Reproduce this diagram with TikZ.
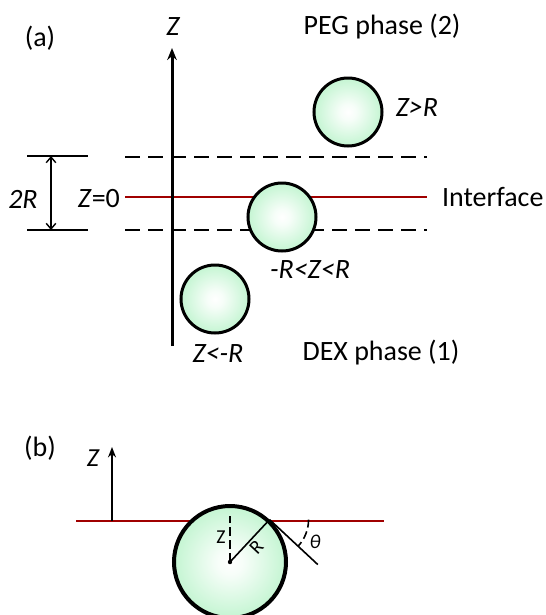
\documentclass[tikz,border=0pt]{standalone}
\usepackage{fontspec}
\setmainfont{Carlito}
\usetikzlibrary{arrows.meta, positioning}

\definecolor{bubblegreen}{RGB}{196,245,210}
\definecolor{ifacered}{RGB}{160,0,0}
\pgfdeclareradialshading{bubbleshade}{\pgfpoint{0bp}{0bp}}{%
  color(0bp)=(white); color(6bp)=(white!85!bubblegreen);
  color(25bp)=(bubblegreen); color(50bp)=(bubblegreen)}

\begin{document}
\begin{tikzpicture}[
  x=0.25mm, y=0.25mm,
  font=\fontsize{19.9}{24}\selectfont,
  lbl/.style={inner sep=0pt},
  small/.style={inner sep=0pt, font=\fontsize{14}{17}\selectfont},
  bubble/.style={circle, draw, line width=0.75mm, minimum size=17mm,
                 inner sep=0pt, shading=bubbleshade},
  bigbubble/.style={bubble, line width=1mm, minimum size=28mm},
  level/.style={dash pattern=on 3.75mm off 2mm, line width=0.6mm},
  iface/.style={ifacered, line width=0.65mm},
  axis/.style={-{Stealth[length=3mm, width=2.4mm]}, line width=0.75mm},
  bar/.style={line width=0.5mm},
  span/.style={{Straight Barb[length=1.4mm, width=2.4mm]}-{Straight Barb[length=1.4mm, width=2.4mm]},
               line width=0.35mm},
  thinline/.style={line width=0.4mm},
  zdash/.style={dash pattern=on 2.25mm off 1mm, line width=0.4mm},
  angdash/.style={dash pattern=on 2mm off 1mm, line width=0.4mm}
]
\useasboundingbox (0,0) rectangle (546,-615);
\clip (0,0) rectangle (546,-615);

%% ---------- panel (a): levels ----------
\node[lbl] (tagA) at (40,-38) {(a)};
\draw[level] (125,-157) -- (427,-157);
\draw[level] (125,-230) -- (427,-230);
\coordinate (ifL) at (125,-197);
\coordinate (ifR) at (427,-197);
\draw[iface] (ifL) -- (ifR);
\node[lbl, left=1.2mm of ifL, yshift=-0.4mm] (zzero) {\textit{Z}=0};
\node[lbl, right=3.7mm of ifR] (ifname) {Interface};

%% ---------- panel (a): axis and phases ----------
\coordinate (axB) at (172,-346);
\coordinate (axT) at (172,-48);
\draw[axis] (axB) -- (axT);
\node[lbl] (zA) at (173,-27) {\itshape Z};
\node[lbl] (peg) at (382,-27) {PEG phase (2)};
\node[lbl] (dex) at (381,-353) {DEX phase (1)};

%% ---------- panel (a): 2R bracket ----------
\coordinate (brT) at (51,-156);
\coordinate (brB) at (51,-230);
\draw[bar] (27,-156) -- (88,-156);
\draw[bar] (27,-230) -- (88,-230);
\draw[span] (brT) -- (brB);
\node[lbl] (twoR) at (23,-199) {\itshape 2R};

%% ---------- panel (a): particles ----------
\node[bubble] (up) at (348,-112) {};
\node[bubble] (mid) at (282,-217) {};
\node[bubble] (low) at (215,-299) {};
\node[lbl] (upL) at (417,-108) {\itshape Z>R};
\node[lbl] (midL) at (310,-270) {\itshape -R<Z<R};
\node[lbl] (lowL) at (218,-354) {\itshape Z<-R};

%% ---------- panel (b) ----------
\node[lbl] (tagB) at (40,-448) {(b)};
\coordinate (ibL) at (76,-521);
\coordinate (ibR) at (384,-521);
\draw[iface] (ibL) -- (ibR);
\coordinate (zb) at (112,-521);
\draw[-{Stealth[length=2.6mm, width=2mm]}, line width=0.5mm] (zb) -- ++(0,74);
\node[lbl, font=\fontsize{18.5}{22}\selectfont] (zB) at (93,-458) {\itshape Z};

\node[bigbubble] (bc) at (230,-562) {};
\fill (bc.center) circle (0.55mm);
\coordinate (touch) at (bc.47);
\draw[zdash] (bc.center) -- ++(0,46);
\node[small] (zlab) at (221,-537) {Z};
\draw[thinline] (bc.center) -- node[small, sloped, below=0.5mm] {R} (touch);
\draw[thinline] (touch) -- ++(-43:66);
\draw[angdash] (touch) ++(9.75mm,0) arc[start angle=0, end angle=-43, radius=9.75mm];
\node[small] (theta) at (315,-542) {\itshape θ};
\end{tikzpicture}
\end{document}
